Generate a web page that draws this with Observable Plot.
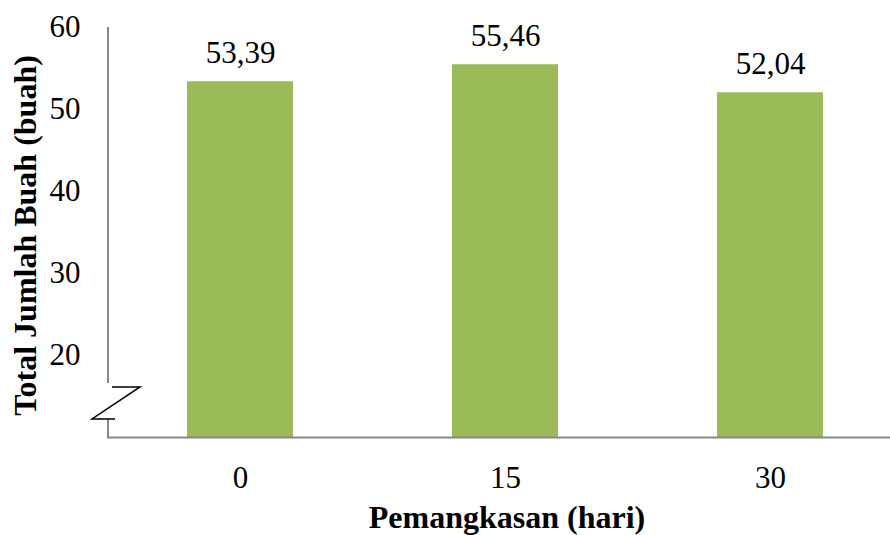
<!DOCTYPE html>
<html>
<head>
<meta charset="utf-8">
<script src="https://cdn.jsdelivr.net/npm/d3@7"></script>
<script src="https://cdn.jsdelivr.net/npm/@observablehq/plot@0.6"></script>
<style>
  html, body { margin: 0; padding: 0; background: #fff; }
</style>
</head>
<body>
<div id="chart"></div>
<script>
const categories = ["0", "15", "30"];
const values = [53.39, 55.46, 52.04];
const valueLabels = ["53,39", "55,46", "52,04"];
const yTicks = [20, 30, 40, 50, 60];
const xTitle = "Pemangkasan (hari)";
const yTitle = "Total Jumlah Buah (buah)";
const yBase = 10;

const data = categories.map((c, i) => ({c, v: values[i], label: valueLabels[i]}));

const axisAndBreak = (index, scales, vals, dims) => {
  const y = scales.y;
  const x0 = dims.marginLeft + 1;
  const g = d3.create("svg:g");
  g.append("line").attr("x1", x0).attr("x2", x0)
    .attr("y1", y(60)).attr("y2", y(16.6))
    .attr("stroke", "#878787").attr("stroke-width", 2);
  g.append("line").attr("x1", x0).attr("x2", x0)
    .attr("y1", y(12.2)).attr("y2", y(yBase))
    .attr("stroke", "#878787").attr("stroke-width", 2);
  g.append("path")
    .attr("d", `M${x0 + 4},${y(16.1)}H${x0 + 32}L${x0 - 16},${y(12.2)}H${x0 + 7}`)
    .attr("fill", "none").attr("stroke", "#000").attr("stroke-width", 1.5);
  return g.node();
};

const chart = Plot.plot({
  width: 890,
  height: 535,
  marginLeft: 107,
  marginRight: 0,
  marginTop: 27,
  marginBottom: 98,
  style: {fontFamily: "'Liberation Serif', 'Times New Roman', serif", fontSize: "31px", color: "#000", background: "#fff", overflow: "visible"},
  x: {domain: categories, range: [107, 902], paddingInner: 0.6, paddingOuter: 0.3, axis: null},
  y: {domain: [yBase, 60], axis: null},
  marks: [
    Plot.barY(data, {x: "c", y1: yBase, y2: "v", fill: "#9BBB59"}),
    Plot.ruleY([yBase], {stroke: "#878787", strokeWidth: 2}),
    axisAndBreak,
    Plot.axisY(yTicks, {tickSize: 0, tickPadding: 27, label: null, fontSize: 31}),
    Plot.axisX({tickSize: 0, tickPadding: 28, label: null, fontSize: 31}),
    Plot.text(data, {x: "c", y: "v", text: "label", dy: -29, fontSize: 31, fill: "#000"}),
    Plot.text([xTitle], {frameAnchor: "bottom", lineAnchor: "middle", textAnchor: "middle", dy: 80, dx: 8, fontWeight: "bold", fontSize: 32, fill: "#000"}),
    Plot.text([yTitle], {frameAnchor: "left", lineAnchor: "middle", textAnchor: "middle", rotate: -90, dx: -82, dy: 3, fontWeight: "bold", fontSize: 32, fill: "#000"})
  ]
});
document.getElementById("chart").appendChild(chart);
</script>
</body>
</html>
